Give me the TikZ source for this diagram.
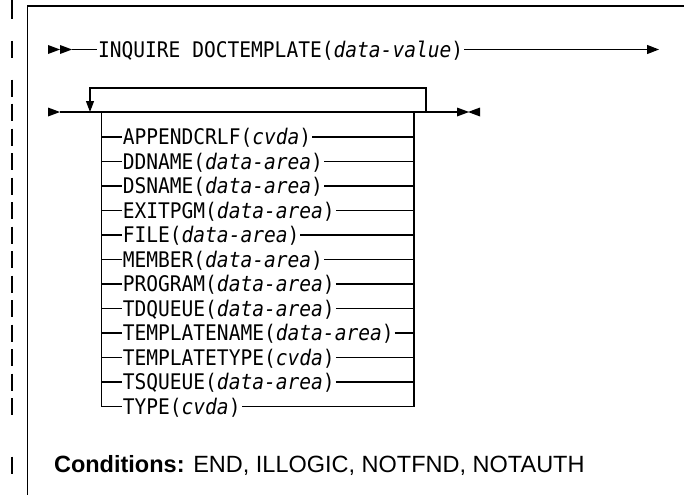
\documentclass[tikz,border=0pt]{standalone}
\usepackage{fontspec}
\setmonofont[FakeStretch=0.91]{DejaVu Sans Mono}
\setsansfont{Liberation Sans}
\usetikzlibrary{arrows.meta}
\tikzset{rtri/.pic={\fill (0,-4.5) -- (12,0) -- (0,4.5) -- cycle;},
  ltri/.pic={\fill (0,-4.5) -- (-12,0) -- (0,4.5) -- cycle;}}
\begin{document}
\begin{tikzpicture}[x=1pt, y=-1pt, line width=1.1pt, every node/.style={inner sep=0.5pt}, kw/.style={font=\ttfamily\fontsize{21.5}{26}\selectfont, text height=15.7pt, text depth=0pt, anchor=west}, tip/.style={-{Triangle[length=12pt,width=9pt]}}, bar/.style={line width=2pt}]
\useasboundingbox (0,0) rectangle (684,495);
% frame and change bars
\draw[line width=1.4pt] (684,6) -- (27.7,6) -- (27.7,495);
\draw[bar] (11.7,0) -- (11.7,19);
\foreach \y in {49.5,88,112,137,161.5,186,210.5,235,259.5,284,308.5,333,357.5,382,406.5,465} \draw[bar] (11.7,\y-8.5) -- (11.7,\y+8.5);
% first line
\pic at (48,49.5) {rtri};
\pic at (60,49.5) {rtri};
\coordinate (s1) at (72,49.5);
\node[kw] (cmd) at (97,49.5) {INQUIRE DOCTEMPLATE(\textit{data-value})};
\coordinate (e1) at (659,49.5);
\draw (s1) -- (cmd.west);
\draw[tip] (cmd.east) -- (e1);
% second line
\pic at (48,112) {rtri};
\coordinate (s2) at (60,112);
\coordinate (e2) at (457,112);
\draw (s2) -- (e2);
\pic at (457,112) {rtri};
\pic at (480,112) {ltri};
\coordinate (jl) at (90,112);
\coordinate (jr) at (426,112);
\coordinate (lt) at (90,88);
\draw[-{Triangle[length=11pt,width=8pt]}] (jr) |- (lt) -- (jl);
\coordinate (lrail) at (101.7,112);
\coordinate (rrail) at (414,112);
% options
\node[kw] (o1) at (121.7,137) {APPENDCRLF(\textit{cvda})};
\node[kw] (o2) at (121.7,161.5) {DDNAME(\textit{data-area})};
\node[kw] (o3) at (121.7,186) {DSNAME(\textit{data-area})};
\node[kw] (o4) at (121.7,210.5) {EXITPGM(\textit{data-area})};
\node[kw] (o5) at (121.7,235) {FILE(\textit{data-area})};
\node[kw] (o6) at (121.7,259.5) {MEMBER(\textit{data-area})};
\node[kw] (o7) at (121.7,284) {PROGRAM(\textit{data-area})};
\node[kw] (o8) at (121.7,308.5) {TDQUEUE(\textit{data-area})};
\node[kw] (o9) at (121.7,333) {TEMPLATENAME(\textit{data-area})};
\node[kw] (o10) at (121.7,357.5) {TEMPLATETYPE(\textit{cvda})};
\node[kw] (o11) at (121.7,382) {TSQUEUE(\textit{data-area})};
\node[kw] (o12) at (121.7,406.5) {TYPE(\textit{cvda})};
\draw (lrail) |- (o12.west);
\draw (rrail) |- (o12.east);
\foreach \o in {o1,o2,o3,o4,o5,o6,o7,o8,o9,o10,o11} {\draw (\o.west -| lrail) -- (\o.west); \draw (\o.east) -- (\o.east -| rrail);}
% conditions
\node[anchor=west, font=\sffamily\fontsize{23.5}{28}\selectfont] (cond) at (53,465) {\textbf{Conditions:} END, ILLOGIC, NOTFND, NOTAUTH};
\end{tikzpicture}
\end{document}
